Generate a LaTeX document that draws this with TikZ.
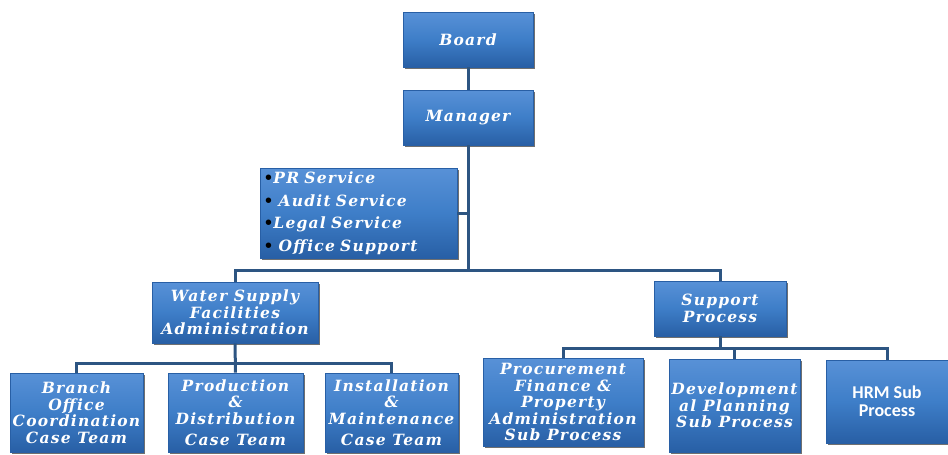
\documentclass[tikz,border=0pt]{standalone}
\usepackage{fontspec}
\setmainfont{DejaVu Serif}
\newfontfamily\hrmfont{Carlito}
\usetikzlibrary{shadows}
\definecolor{boxtop}{RGB}{88,145,215}
\definecolor{boxbot}{RGB}{40,95,165}
\definecolor{boxmid}{RGB}{62,126,200}
\definecolor{linecol}{RGB}{45,85,130}
\tikzset{
  orgbox/.style={rectangle, inner sep=0pt, draw=boxbot, line width=0.6pt,
    top color=boxtop, bottom color=boxbot, middle color=boxmid,
    drop shadow={shadow xshift=2pt, shadow yshift=-2pt, opacity=0.7, fill=black!80},
    text=white, align=center,
    font=\fontsize{15.5}{16.5}\selectfont\bfseries\itshape\addfontfeature{LetterSpace=8}},
  conn/.style={draw=linecol, line width=3pt},
}
\begin{document}
\begin{tikzpicture}[x=1pt,y=-1pt]
\useasboundingbox (0,0) rectangle (948,455);
\coordinate (j1) at (468,270);
\coordinate (j2) at (235,363);
\coordinate (j3) at (720,348);
\node[orgbox, minimum width=130, minimum height=55] (board) at (468,39.5) {Board};
\node[orgbox, minimum width=130, minimum height=55] (manager) at (468,117.5) {Manager};
\node[orgbox, minimum width=197, minimum height=90, align=left, text width=190] (services) at (358.5,213)
  {\textcolor{black}{\textbullet}PR Service\\[6pt]
   \textcolor{black}{\textbullet}\ Audit Service\\[6pt]
   \textcolor{black}{\textbullet}Legal Service\\[6pt]
   \textcolor{black}{\textbullet}\ Office Support};
\node[orgbox, minimum width=166, minimum height=61] (water) at (235,312.5) {Water Supply\\Facilities\\Administration};
\node[orgbox, minimum width=132, minimum height=55] (support) at (720,308.5) {Support\\Process};
\node[orgbox, minimum width=133, minimum height=79] (branch) at (76.5,412.5) {Branch\\Office\\Coordination\\Case Team};
\node[orgbox, minimum width=135, minimum height=79] (production) at (235.5,412.5) {Production\\\&\\Distribution\\[5pt]Case Team};
\node[orgbox, minimum width=133, minimum height=79] (install) at (391.5,412.5) {Installation\\\&\\Maintenance\\[5pt]Case Team};
\node[orgbox, minimum width=160, minimum height=88] (procure) at (563,402) {Procurement\\Finance \&\\Property\\Administration\\Sub Process};
\node[orgbox, minimum width=131, minimum height=93] (devel) at (734.5,405.5) {Development\\al Planning\\Sub Process};
\node[orgbox, minimum width=122, minimum height=83, font=\fontsize{18}{18}\selectfont\hrmfont\bfseries] (hrm) at (887,401.5) {HRM Sub\\Process};
\draw[conn] (board) -- (manager);
\draw[conn] (manager.south) -- (j1);
\draw[conn] (services.east) -- (services.east -| j1);
\draw[conn] (water.north) |- (j1) -| (support.north);
\draw[conn] (water.south) -- (production.north);
\draw[conn] (branch.north) |- (j2) -| (install.north);
\draw[conn] (support.south) -- (j3);
\draw[conn] (procure.north) |- (j3) -| (hrm.north);
\draw[conn] (devel.north) -- (devel.north |- j3);
\end{tikzpicture}
\end{document}
